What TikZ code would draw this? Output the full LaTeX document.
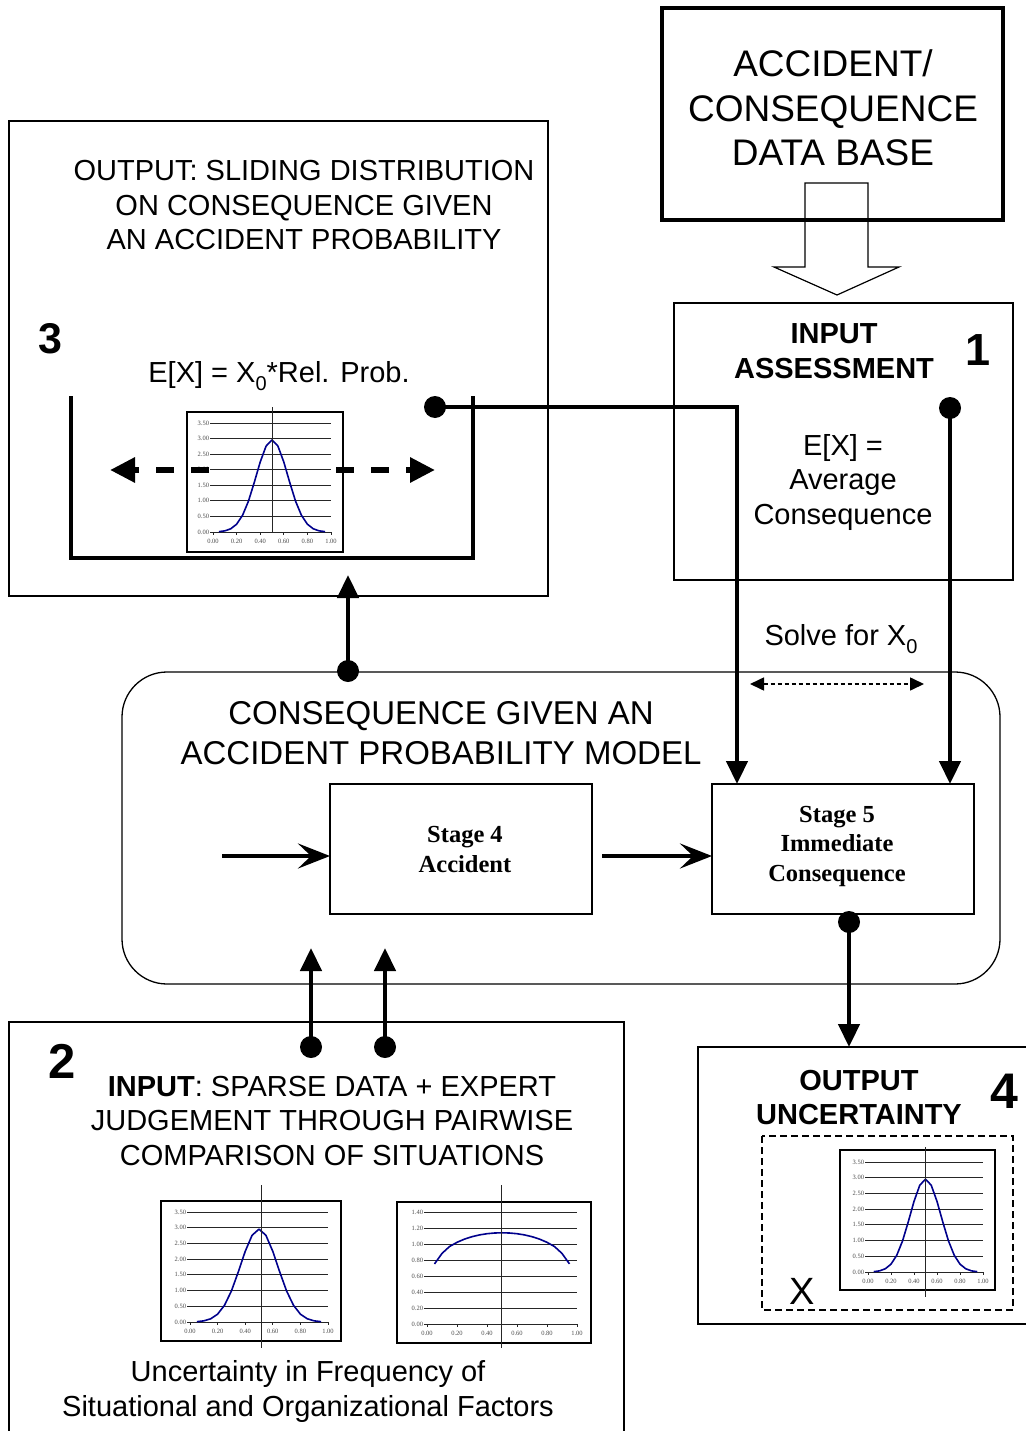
\documentclass[tikz,border=0pt]{standalone}
\usepackage{fontspec}
\setmainfont{Liberation Sans}
\newfontfamily\stagefont{Liberation Serif}
\usetikzlibrary{arrows.meta}

\definecolor{curveblue}{RGB}{0,0,140}
\newcommand\setfs[2]{\fontsize{#1}{#2}\selectfont}
\newcommand\lowsub[1]{\raisebox{-0.3em}{\setfs{20}{20}#1}}

% Small distribution chart: frame (#1,#2)-(#3,#4), plot x range #5..#6,
% plot y from #7 (value 0) up to #8 (top grid line), y tick list macro #9
\newcommand\ChartBase[9]{%
  \fill[white] (#1,#2) rectangle (#3,#4);
  \draw[chartframe] (#1,#2) rectangle (#3,#4);
  \foreach \k/\lab in #9 {%
    \draw[gridline] ({#5-3},{#7-(#7-#8)*\k/7}) -- (#6,{#7-(#7-#8)*\k/7});
    \node[ticklab, anchor=east] (\chartname-y\k) at ({#5-4},{#7-(#7-#8)*\k/7}) {\lab};
  }
  \foreach \t/\lab [count=\i] in {0/0.00,0.2/0.20,0.4/0.40,0.6/0.60,0.8/0.80,1/1.00}{%
    \draw[gridline] ({#5+(#6-#5)*\t},#7) -- ({#5+(#6-#5)*\t},{#7+2.5});
    \node[ticklab] (\chartname-x\i) at ({#5+(#6-#5)*\t},{#7+9}) {\lab};
  }
}
\newcommand\BellCurve[4]{%
  \draw[curveline] plot[domain=0.05:0.95, samples=19]
    ({#1+\x*(#2-#1)}, {#3-(#3-#4)*exp(-((\x-0.5)^2)/0.03645)/(0.135*2.5066*3.5)});}
\newcommand\FlatCurve[4]{%
  \draw[curveline] plot[domain=0.05:0.95, samples=19]
    ({#1+\x*(#2-#1)}, {#3-(#3-#4)*1.617*((\x*(1-\x))^0.252)/1.4});}
\newcommand\belllabels{0/0.00,1/0.50,2/1.00,3/1.50,4/2.00,5/2.50,6/3.00,7/3.50}
\newcommand\flatlabels{0/0.00,1/0.20,2/0.40,3/0.60,4/0.80,5/1.00,6/1.20,7/1.40}

\tikzset{
  every node/.style={inner sep=0pt, outer sep=0pt},
  frame/.style={draw, line width=1.3pt, anchor=north west},
  heavyframe/.style={draw, line width=4pt, anchor=north west},
  stagebox/.style={draw, line width=2.6pt, anchor=north west,
    minimum width=262pt, minimum height=130pt},
  % multi-line text nodes: the base anchor sits on the last line
  txt/.style={align=center, anchor=base, font=\setfs{29}{34.5}},
  bigtxt/.style={align=center, anchor=base, font=\setfs{37}{44.5}},
  modeltxt/.style={align=center, anchor=base, font=\setfs{33}{40}},
  stagetxt/.style={align=center, anchor=base, font=\stagefont\bfseries\setfs{24.5}{29.5}},
  num/.style={anchor=base, font=\bfseries\setfs{#1}{#1}},
  dot/.style={circle, fill=black, minimum size=22pt},
  link/.style={line width=4.5pt},
  tip/.style={-{Triangle[length=23pt,width=21pt]}},
  stagearrow/.style={line width=4pt, -{Stealth[length=32pt,width=25pt,inset=13pt]}},
  slide/.style={line width=6pt, dash pattern=on 18pt off 17pt,
    -{Triangle[length=25pt,width=24pt]}},
  solve/.style={line width=1.6pt, dash pattern=on 4pt off 3pt,
    {Triangle[length=14pt,width=13pt]}-{Triangle[length=14pt,width=13pt]}},
  chartframe/.style={line width=1.4pt},
  gridline/.style={line width=0.9pt, black!85},
  curveline/.style={line width=1.6pt, curveblue, line join=round},
  ticklab/.style={font=\stagefont\setfs{6.5}{7}, text=black!70},
}

\begin{document}
\begin{tikzpicture}[x=1pt, y=-1pt]
\useasboundingbox (0,0) rectangle (1025,1431);
\fill[white] (0,0) rectangle (1025,1431);

% ---- data base and its block arrow
\draw[line width=1.2pt, fill=white] (805,183) -- (868,183) -- (868,267) -- (899,267)
  -- (837,295) -- (774,267) -- (805,267) -- cycle;
\node[heavyframe, minimum width=341pt, minimum height=212pt] (db) at (662,8) {};
\node[bigtxt] (dbtxt) at (833,166) {ACCIDENT/\\CONSEQUENCE\\DATA BASE};

% ---- box 1: input assessment
\node[frame, minimum width=339pt, minimum height=277pt] (b1) at (674,303) {};
\node[txt, font=\bfseries\setfs{29}{35}] (b1title) at (834,378) {INPUT\\ASSESSMENT};
\node[num=45] (n1) at (978,365) {1};
\node[txt] (b1body) at (843,524) {E[X] =\\Average\\Consequence};

% ---- box 3: sliding distribution output
\node[frame, minimum width=539pt, minimum height=475pt] (b3) at (9,121) {};
\node[txt] (b3title) at (304,250)
  {OUTPUT: SLIDING DISTRIBUTION\\ON CONSEQUENCE GIVEN\\AN ACCIDENT PROBABILITY};
\node[num=43] (n3) at (50,353) {3};
\node[txt] (b3eq) at (279,382) {E[X] = X\lowsub{0}*Rel. Prob.};
\draw[line width=4pt] (71,396) -- (71,558) -- (473,558) -- (473,396);
\def\chartname{c3}
\ChartBase{187}{412}{343}{552}{213}{331}{532}{423}{\belllabels}
\BellCurve{213}{331}{532}{423}
\draw[gridline] (272,407) -- (272,533);
\coordinate (slideL0) at (209,470);
\coordinate (slideL1) at (110,470);
\coordinate (slideR0) at (336,470);
\coordinate (slideR1) at (435,470);
\draw[slide] (slideL0) -- (slideL1);
\draw[slide] (slideR0) -- (slideR1);

% ---- model box
\node[frame, rounded corners=45pt, minimum width=878pt, minimum height=312pt] (model) at (122,672) {};
\node[modeltxt] (modeltitle) at (441,764) {CONSEQUENCE GIVEN AN\\ACCIDENT PROBABILITY MODEL};
\node[stagebox] (s4) at (330,784) {};
\node[stagebox] (s5) at (712,784) {};
\node[stagetxt] (s4txt) at (465,872) {Stage 4\\Accident};
\node[stagetxt] (s5txt) at (837,881) {Stage 5\\Immediate\\Consequence};
\coordinate (inflow) at (222,856);
\draw[stagearrow] (inflow) -- (inflow -| s4.west);
\draw[stagearrow] ([xshift=10pt]s4.east |- inflow) -- (inflow -| s5.west);

% ---- solve for X0
\node[txt] (solvetxt) at (841,645) {Solve for X\lowsub{0}};
\coordinate (solveL) at (750,684);
\coordinate (solveR) at (924,684);
\draw[solve] (solveL) -- (solveR);

% ---- connectors between the parts
\node[dot] (dot3) at (435,407) {};
\node[dot] (dot1) at (950,408) {};
\draw[link, tip] (dot3.center) -| ([xshift=25pt]s5.north west);
\draw[link, tip] (dot1.center) -- (dot1.center |- s5.north);

\node[dot] (dotm) at (348,671) {};
\coordinate (b3in) at (348,575);
\draw[link, tip] (dotm.center) -- (b3in);

% ---- box 2: sparse data input
\node[frame, minimum width=615pt, minimum height=430pt] (b2) at (9,1022) {};
\node[num=49] (n2) at (62,1078) {2};
\node[txt] (b2title) at (332,1165)
  {\textbf{INPUT}: SPARSE DATA + EXPERT\\JUDGEMENT THROUGH PAIRWISE\\COMPARISON OF SITUATIONS};
\def\chartname{c2a}
\ChartBase{161}{1201}{341}{1341}{190}{328}{1322}{1212}{\belllabels}
\BellCurve{190}{328}{1322}{1212}
\draw[gridline] (261,1185) -- (261,1348);
\def\chartname{c2b}
\ChartBase{397}{1202}{591}{1343}{427}{577}{1324}{1212}{\flatlabels}
\FlatCurve{427}{577}{1324}{1212}
\draw[gridline] (501,1185) -- (501,1348);
\node[txt] (b2foot) at (308,1416)
  {Uncertainty in Frequency of\\Situational and Organizational Factors};

\node[dot] (dot2a) at (311,1047) {};
\node[dot] (dot2b) at (385,1047) {};
\coordinate (m2a) at (311,948);
\coordinate (m2b) at (385,948);
\draw[link, tip] (dot2a.center) -- (m2a);
\draw[link, tip] (dot2b.center) -- (m2b);

% ---- box 4: output uncertainty
\node[frame, minimum width=340pt, minimum height=277pt] (b4) at (698,1047) {};
\node[txt, font=\bfseries\setfs{29}{34}] (b4title) at (859,1124) {OUTPUT\\UNCERTAINTY};
\node[num=50] (n4) at (1004,1108) {4};
\draw[line width=2pt, dash pattern=on 7pt off 4pt] (762,1136) rectangle (1013,1310);
\def\chartname{c4}
\ChartBase{840}{1150}{995}{1290}{868}{983}{1272}{1162}{\belllabels}
\BellCurve{868}{983}{1272}{1162}
\draw[gridline] (925,1147) -- (925,1297);
\node[anchor=base, font=\setfs{38}{38}] (xlab) at (802,1304) {X};

\node[dot] (dot5) at (849,922) {};
\draw[link, tip] (dot5.center) -- (dot5.center |- b4.north);
\end{tikzpicture}
\end{document}
